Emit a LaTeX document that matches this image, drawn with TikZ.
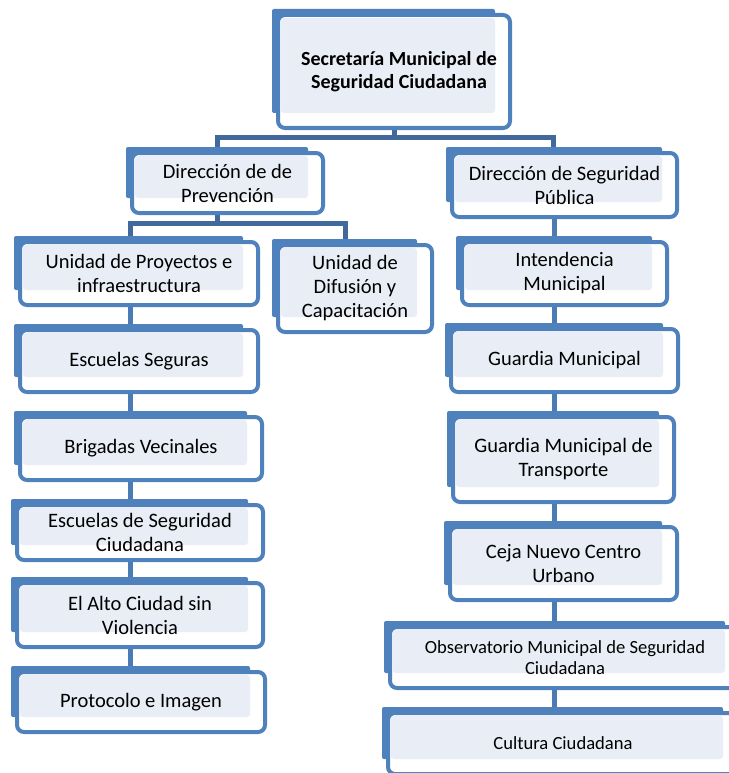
\documentclass[tikz,border=0pt]{standalone}
\usepackage{fontspec}
\setmainfont{Carlito}
\usetikzlibrary{backgrounds}
\definecolor{boxblue}{HTML}{4F81BD}
\definecolor{lightfill}{HTML}{E9EEF6}
\definecolor{busblue}{HTML}{41699C}
\definecolor{connblue}{HTML}{4A7BB5}
\tikzset{
 frontbox/.style={draw=boxblue, line width=4pt, fill=white, rounded corners=7pt, inner sep=0pt, outer sep=0pt, rectangle},
 backrect/.style={fill=boxblue, rounded corners=2pt},
 lightrect/.style={fill=lightfill, rounded corners=3pt},
 boxtext/.style={align=center, font=\fontsize{20.5}{24}\selectfont, inner sep=0pt},
 smalltext/.style={align=center, font=\fontsize{18.6}{21.5}\selectfont, inner sep=0pt},
 toptext/.style={align=center, font=\fontsize{20}{22.5}\selectfont\bfseries, inner sep=0pt, xshift=5pt},
 conn/.style={draw=connblue, line width=5pt},
 bus/.style={draw=busblue, line width=5pt},
}
\newcommand\obox[7][boxtext]{%
 \fill[backrect] (#3-6,#4-6) rectangle (#5-15,#6-15);
 \node[frontbox, minimum width={(#5-#3)*1pt}, minimum height={(#6-#4)*1pt}] (#2) at ({(#3+#5)/2},{(#4+#6)/2}) {};
 \fill[lightrect] (#3+3,#4+3) rectangle (#5-15,#6-15);
 \node[#1] (#2t) at (#2.center) {#7};
}
\begin{document}
\begin{tikzpicture}[x=1pt,y=-1pt]
\useasboundingbox (0,0) rectangle (728,773);
\obox[toptext]{top}{278}{15}{510}{128}{Secretaría Municipal de\\Seguridad Ciudadana}
\obox{prev}{132}{153}{323}{213}{Dirección de de\\Prevención}
\obox{dsp}{452}{153}{677}{217}{Dirección de Seguridad\\Pública}
\obox{upi}{20}{242}{258}{305}{Unidad de Proyectos e\\infraestructura}
\obox{dif}{278}{245}{432}{332}{Unidad de\\Difusión y\\Capacitación}
\obox{esc}{20}{330}{258}{392}{Escuelas Seguras}
\obox{int}{462}{242}{667}{305}{Intendencia\\Municipal}
\obox{gm}{451}{329}{678}{392}{Guardia Municipal}
\obox{bri}{20}{417}{262}{480}{Brigadas Vecinales}
\obox{gmt}{453}{417}{674}{502}{Guardia Municipal de\\Transporte}
\obox{esd}{17}{505}{263}{560}{Escuelas de Seguridad\\Ciudadana}
\obox{cej}{450}{527}{677}{600}{Ceja Nuevo Centro\\Urbano}
\obox{alt}{17}{583}{263}{647}{El Alto Ciudad sin\\Violencia}
\obox{pro}{17}{672}{265}{732}{Protocolo e Imagen}
\obox[smalltext]{obs}{390}{627}{740}{688}{Observatorio Municipal de Seguridad\\Ciudadana}
\obox[smalltext]{cul}{388}{713}{738}{774}{Cultura Ciudadana}
\begin{scope}[on background layer]
 \fill[white] (0,0) rectangle (728,773);
 \coordinate (busL) at (217,137);
 \coordinate (busR) at (553,137);
 \coordinate (colP) at (217,0);
 \coordinate (lbL) at (130,223);
 \coordinate (lbR) at (345,223);
 \coordinate (colL) at (130,0);
 \coordinate (colR) at (554,0);
 \draw[bus] (top.south) -- (top.south |- busL);
 \draw[bus] (busL |- prev.north) -- (busL) -- (busR) -- (busR |- dsp.north);
 \draw[bus] (colP |- prev.south) -- (colP |- lbL);
 \draw[bus] (lbL |- upi.north) -- (lbL) -- (lbR) -- (lbR |- dif.north);
 \draw[conn] (colL |- upi.south) -- (colL |- esc.north);
 \draw[conn] (colL |- esc.south) -- (colL |- bri.north);
 \draw[conn] (colL |- bri.south) -- (colL |- esd.north);
 \draw[conn] (colL |- esd.south) -- (colL |- alt.north);
 \draw[conn] (colL |- alt.south) -- (colL |- pro.north);
 \draw[conn] (colR |- dsp.south) -- (colR |- int.north);
 \draw[conn] (colR |- int.south) -- (colR |- gm.north);
 \draw[conn] (colR |- gm.south) -- (colR |- gmt.north);
 \draw[conn] (colR |- gmt.south) -- (colR |- cej.north);
 \draw[conn] (colR |- cej.south) -- (colR |- obs.north);
 \draw[conn] (colR |- obs.south) -- (colR |- cul.north);
\end{scope}
\end{tikzpicture}
\end{document}
